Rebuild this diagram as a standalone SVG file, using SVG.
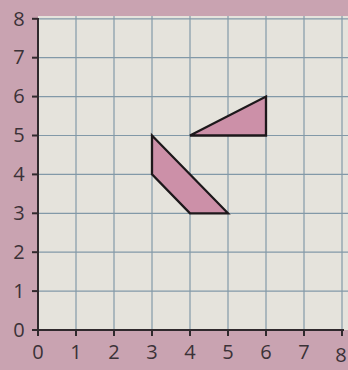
<svg xmlns="http://www.w3.org/2000/svg" width="348" height="370" viewBox="0 0 348 370">
<style>
.grid line{stroke:#8299a8;stroke-width:1.2}
.axis line{stroke:#2f292d;stroke-width:2}
.lbl{font-family:"Open Sans","DejaVu Sans",sans-serif;font-size:20px;fill:#3b3237}
.xl{text-anchor:middle}
.yl{text-anchor:middle}
.shape{fill:#cc90a8;stroke:#1d181b;stroke-width:2.3;stroke-linejoin:miter}
</style>
<rect x="0" y="0" width="348" height="370" fill="#c9a3b1"/>
<rect x="38" y="16" width="310" height="314" fill="#e5e3dc"/>
<g id="grid" class="grid">
<line x1="76" y1="16" x2="76" y2="330"/>
<line x1="114" y1="16" x2="114" y2="330"/>
<line x1="152" y1="16" x2="152" y2="330"/>
<line x1="190" y1="16" x2="190" y2="330"/>
<line x1="228" y1="16" x2="228" y2="330"/>
<line x1="266" y1="16" x2="266" y2="330"/>
<line x1="304" y1="16" x2="304" y2="330"/>
<line x1="342" y1="16" x2="342" y2="330"/>
<line x1="38" y1="291.1" x2="348" y2="291.1"/>
<line x1="38" y1="252.2" x2="348" y2="252.2"/>
<line x1="38" y1="213.3" x2="348" y2="213.3"/>
<line x1="38" y1="174.4" x2="348" y2="174.4"/>
<line x1="38" y1="135.5" x2="348" y2="135.5"/>
<line x1="38" y1="96.6" x2="348" y2="96.6"/>
<line x1="38" y1="57.7" x2="348" y2="57.7"/>
<line x1="38" y1="18.8" x2="348" y2="18.8"/>
</g>
<g id="axes" class="axis">
<line x1="38" y1="18" x2="38" y2="336"/>
<line x1="32" y1="330" x2="344" y2="330"/>
<line x1="32" y1="291.1" x2="38" y2="291.1"/>
<line x1="32" y1="252.2" x2="38" y2="252.2"/>
<line x1="32" y1="213.3" x2="38" y2="213.3"/>
<line x1="32" y1="174.4" x2="38" y2="174.4"/>
<line x1="32" y1="135.5" x2="38" y2="135.5"/>
<line x1="32" y1="96.6" x2="38" y2="96.6"/>
<line x1="32" y1="57.7" x2="38" y2="57.7"/>
<line x1="32" y1="18.8" x2="38" y2="18.8"/>
<line x1="76" y1="330" x2="76" y2="336"/>
<line x1="114" y1="330" x2="114" y2="336"/>
<line x1="152" y1="330" x2="152" y2="336"/>
<line x1="190" y1="330" x2="190" y2="336"/>
<line x1="228" y1="330" x2="228" y2="336"/>
<line x1="266" y1="330" x2="266" y2="336"/>
<line x1="304" y1="330" x2="304" y2="336"/>
<line x1="342" y1="330" x2="342" y2="336"/>
</g>
<g id="y-labels" class="lbl yl">
<text x="19" y="337">0</text>
<text x="19" y="298">1</text>
<text x="19" y="259">2</text>
<text x="19" y="220">3</text>
<text x="19" y="181">4</text>
<text x="19" y="142">5</text>
<text x="19" y="103">6</text>
<text x="19" y="64">7</text>
<text x="19" y="26">8</text>
</g>
<g id="x-labels" class="lbl xl">
<text x="38" y="359">0</text>
<text x="76" y="359">1</text>
<text x="114" y="359">2</text>
<text x="152" y="359">3</text>
<text x="190" y="359">4</text>
<text x="228" y="359">5</text>
<text x="266" y="359">6</text>
<text x="304" y="359">7</text>
<text x="341" y="362">8</text>
</g>
<g id="triangle">
<polygon class="shape" points="190,135.5 266,135.5 266,96.6"/>
</g>
<g id="quadrilateral">
<polygon class="shape" points="152,135.5 152,174.4 190,213.3 228,213.3"/>
</g>
</svg>
